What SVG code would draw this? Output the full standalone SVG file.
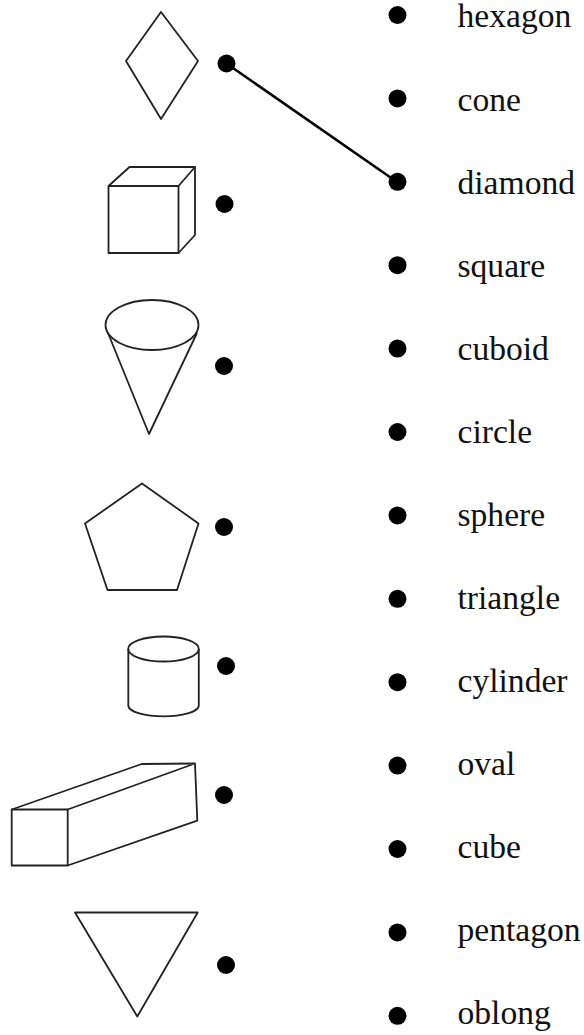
<svg xmlns="http://www.w3.org/2000/svg" width="584" height="1035" viewBox="0 0 584 1035">
<style>
.s{fill:none;stroke:#222;stroke-width:1.8;stroke-linejoin:round}
.d{fill:#000}
.t{font-family:"Liberation Serif","Times New Roman",serif;font-size:33.6px;fill:#111}
.c{stroke:#000;stroke-width:2.6;fill:none}
</style>
<rect width="584" height="1035" fill="#fff"/>
<g id="connectors">
<line class="c" x1="226.5" y1="63.5" x2="397" y2="182"/>
</g>
<g id="shape-diamond">
<polygon class="s" points="161,12 198,61 161,119 126,61"/>
<circle class="d" cx="226.5" cy="63.5" r="9"/>
</g>
<g id="shape-cube">
<rect class="s" x="108.5" y="186" width="70" height="67"/>
<polyline class="s" points="108.5,186 129.5,167 195,167 178.5,186"/>
<polyline class="s" points="195,167 195,235 178.5,253"/>
<circle class="d" cx="224.5" cy="204" r="9"/>
</g>
<g id="shape-cone">
<ellipse class="s" cx="152" cy="325" rx="46.5" ry="25"/>
<polyline class="s" points="108,333 149,434 197,333"/>
<circle class="d" cx="224" cy="366" r="9"/>
</g>
<g id="shape-pentagon">
<polygon class="s" points="142,483.5 198.5,523.5 177,590 107.5,590 85,523.5"/>
<circle class="d" cx="224" cy="527" r="9"/>
</g>
<g id="shape-cylinder">
<ellipse class="s" cx="163.5" cy="649" rx="35.3" ry="12.5"/>
<path class="s" d="M128.3,649 V706 A35.3,11 0 0 0 198.8,706 V649"/>
<circle class="d" cx="226" cy="666" r="9"/>
</g>
<g id="shape-oblong">
<rect class="s" x="11.7" y="809.5" width="56" height="56"/>
<polyline class="s" points="11.7,809.5 141.7,764 195,763.5 67.7,809.5"/>
<polyline class="s" points="195,763.5 197.3,820.7 67.7,865.5"/>
<circle class="d" cx="224" cy="795" r="9"/>
</g>
<g id="shape-triangle">
<polygon class="s" points="75,912.5 197.7,912.5 137.3,1016.5"/>
<circle class="d" cx="226" cy="965" r="9"/>
</g>
<g id="word-hexagon"><circle class="d" cx="397.5" cy="15" r="9"/><text class="t" x="457.5" y="27">hexagon</text></g>
<g id="word-cone"><circle class="d" cx="397.5" cy="98.4" r="9"/><text class="t" x="457.5" y="110.5">cone</text></g>
<g id="word-diamond"><circle class="d" cx="397.5" cy="181.8" r="9"/><text class="t" x="457.5" y="193.5">diamond</text></g>
<g id="word-square"><circle class="d" cx="397.5" cy="265.2" r="9"/><text class="t" x="457.5" y="276.5">square</text></g>
<g id="word-cuboid"><circle class="d" cx="397.5" cy="348.6" r="9"/><text class="t" x="457.5" y="359.5">cuboid</text></g>
<g id="word-circle"><circle class="d" cx="397.5" cy="432" r="9"/><text class="t" x="457.5" y="442.5">circle</text></g>
<g id="word-sphere"><circle class="d" cx="397.5" cy="515.4" r="9"/><text class="t" x="457.5" y="525.5">sphere</text></g>
<g id="word-triangle"><circle class="d" cx="397.5" cy="598.8" r="9"/><text class="t" x="457.5" y="608.5">triangle</text></g>
<g id="word-cylinder"><circle class="d" cx="397.5" cy="682.2" r="9"/><text class="t" x="457.5" y="691.5">cylinder</text></g>
<g id="word-oval"><circle class="d" cx="397.5" cy="765.6" r="9"/><text class="t" x="457.5" y="774.5">oval</text></g>
<g id="word-cube"><circle class="d" cx="397.5" cy="849" r="9"/><text class="t" x="457.5" y="857.5">cube</text></g>
<g id="word-pentagon"><circle class="d" cx="397.5" cy="932.4" r="9"/><text class="t" x="457.5" y="941">pentagon</text></g>
<g id="word-oblong"><circle class="d" cx="397.5" cy="1015.8" r="9"/><text class="t" x="457.5" y="1023.5">oblong</text></g>
</svg>
